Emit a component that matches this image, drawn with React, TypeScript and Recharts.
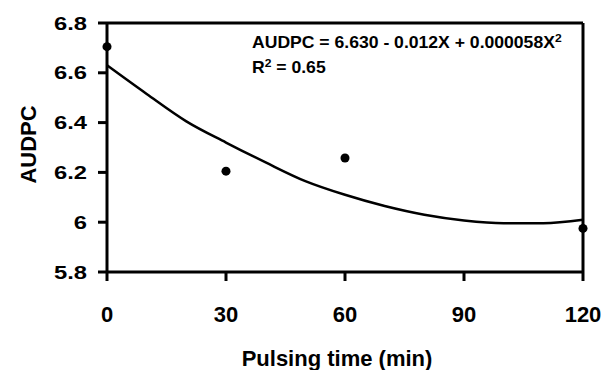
import React from 'react';
import { ComposedChart, XAxis, YAxis, Line, Scatter, ReferenceLine } from 'recharts';

// observed AUDPC per pulsing time
const obsTimes = [0, 30, 60, 120];
const obsAudpc = [6.705, 6.205, 6.258, 5.975];

// fitted curve
const fitTimes = [0, 10, 20, 30, 40, 50, 60, 70, 80, 90, 100, 110, 120];
const fitAudpc = [6.63, 6.515, 6.405, 6.32, 6.24, 6.165, 6.11, 6.065, 6.03, 6.007, 5.996, 5.996, 6.01];

const xTicks = [0, 30, 60, 90, 120];
const yTicks = [5.8, 6.0, 6.2, 6.4, 6.6, 6.8];
const yTickLabels = ['5.8', '6', '6.2', '6.4', '6.6', '6.8'];

const FONT = '"Liberation Sans", Arial, sans-serif';

const fitData = fitTimes.map((t, i) => ({ t, fit: fitAudpc[i] }));
const obsData = obsTimes.map((t, i) => ({ t, obs: obsAudpc[i] }));

interface TickProps {
  x: number;
  y: number;
  payload: { value: number };
}

const XTick = ({ x, y, payload }: TickProps) => (
  <text x={x} y={y + 39} textAnchor="middle" fontFamily={FONT} fontWeight="bold" fontSize={22} fill="#000">
    {payload.value}
  </text>
);

// y labels in the original are wider than they are tall
const YTick = ({ x, y, payload }: TickProps) => {
  const idx = yTicks.findIndex(v => Math.abs(v - payload.value) < 1e-6);
  const label = idx >= 0 ? yTickLabels[idx] : String(payload.value);
  return (
    <g transform={`translate(${x - 9} ${y + 6.5}) scale(1.32 1)`}>
      <text x={0} y={0} textAnchor="end" fontFamily={FONT} fontWeight="bold" fontSize={18} fill="#000">
        {label}
      </text>
    </g>
  );
};

const YTitle = ({ viewBox }: { viewBox?: { y: number; height: number } }) => {
  const cy = (viewBox?.y ?? 23) + (viewBox?.height ?? 249) / 2 - 3;
  return (
    <text
      x={28}
      y={cy}
      textAnchor="middle"
      dominantBaseline="central"
      transform={`rotate(-90 28 ${cy})`}
      fontFamily={FONT}
      fontWeight="bold"
      fontSize={22}
      fill="#000"
    >
      AUDPC
    </text>
  );
};

export default function App() {
  return (
    <div style={{ position: 'relative', width: 603, height: 370, background: '#fff' }}>
      <style>{'body{margin:0}'}</style>
      <ComposedChart width={603} height={370} data={fitData} margin={{ top: 23, right: 20, left: 0, bottom: 0 }}>
        <XAxis
          dataKey="t"
          type="number"
          domain={[0, 120]}
          ticks={xTicks}
          height={98}
          tickSize={9}
          tick={XTick}
          axisLine={{ stroke: '#000', strokeWidth: 3 }}
          tickLine={{ stroke: '#000', strokeWidth: 3 }}
        />
        <YAxis
          type="number"
          domain={[5.8, 6.8]}
          ticks={yTicks}
          width={107}
          tickSize={9}
          tick={YTick}
          axisLine={{ stroke: '#000', strokeWidth: 3 }}
          tickLine={{ stroke: '#000', strokeWidth: 3 }}
          label={<YTitle />}
        />
        <ReferenceLine y={6.8} stroke="#000" strokeWidth={3} />
        <ReferenceLine x={120} stroke="#000" strokeWidth={3} />
        <Line
          dataKey="fit"
          type="monotone"
          stroke="#000"
          strokeWidth={2.5}
          dot={false}
          activeDot={false}
          isAnimationActive={false}
        />
        <Scatter data={obsData} dataKey="obs" fill="#000" shape="circle" isAnimationActive={false} />
      </ComposedChart>
      <svg width={603} height={370} style={{ position: 'absolute', left: 0, top: 0, pointerEvents: 'none' }}>
        <g fontFamily={FONT} fontWeight="bold" fontSize={16} fill="#000" transform="translate(252 0) scale(1.1 1) translate(-252 0)">
          <text x={252} y={48}>
            AUDPC = 6.630 - 0.012X + 0.000058X<tspan dy={-6} fontSize={11}>2</tspan>
          </text>
          <text x={252} y={73}>
            R<tspan dy={-6} fontSize={11}>2</tspan>
            <tspan dy={6}> = 0.65</tspan>
          </text>
        </g>
        <text x={337} y={366} textAnchor="middle" fontFamily={FONT} fontWeight="bold" fontSize={22} fill="#000">
          Pulsing time (min)
        </text>
      </svg>
    </div>
  );
}
